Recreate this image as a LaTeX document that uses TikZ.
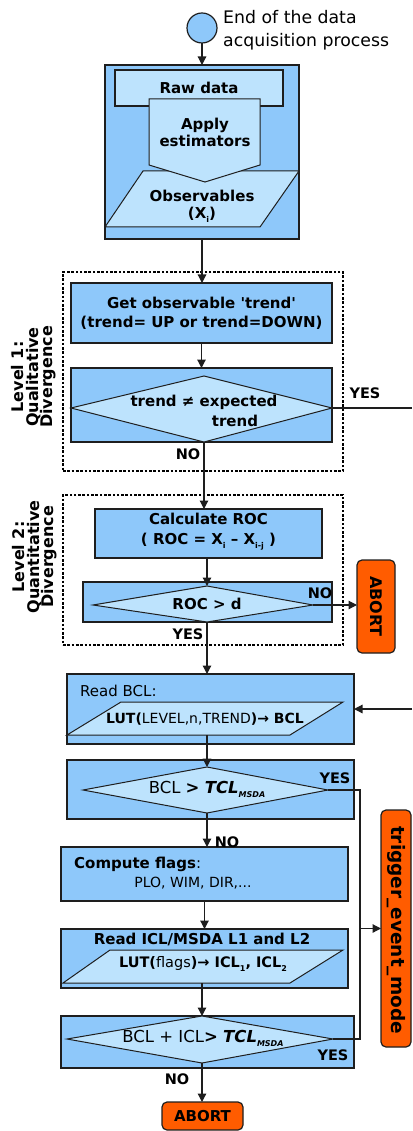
\documentclass[tikz,border=0pt]{standalone}
\usepackage{fontspec}
\setmainfont{DejaVu Sans}[Ligatures=TeXOff]
\usetikzlibrary{arrows.meta}
\definecolor{midblue}{HTML}{8EC8FA}
\definecolor{lightblue}{HTML}{BDE3FD}
\definecolor{abortorange}{HTML}{FF5C00}
\definecolor{edge}{HTML}{1E1E1E}
\newcommand\myfs[2]{\fontsize{#1}{#2}\selectfont}
\newcommand\sbs[1]{\raisebox{-0.45ex}{\fontsize{8}{8}\selectfont #1}}
\begin{document}
\begin{tikzpicture}[x=1pt,y=-1pt,
 box/.style={draw=edge, line width=1.2pt, fill=midblue, inner sep=0pt, outer sep=0pt, rectangle},
 innershape/.style={draw=edge, line width=1pt, fill=lightblue},
 txt/.style={inner sep=0pt, font=\bfseries\myfs{15}{18}, align=center},
 lbl/.style={inner sep=0pt, font=\bfseries\myfs{14.5}{16}},
 conn/.style={draw=edge, line width=1.2pt},
 arr/.style={conn, -{Triangle[length=8.5pt,width=8.5pt]}},
 dotbox/.style={draw=black, line width=2.6pt, dash pattern=on 2.6pt off 1.7pt, inner sep=0pt, outer sep=0pt},
 abortbox/.style={draw=edge, line width=1.2pt, fill=abortorange, rounded corners=5pt, inner sep=0pt, outer sep=0pt},
]
\useasboundingbox (0,0) rectangle (412,1131);

% start
\node[draw=edge, line width=1.2pt, fill=midblue, circle, minimum size=30pt, inner sep=0pt, outer sep=0pt] (start) at (202,28) {};
\node[anchor=west, inner sep=0pt, align=left, font=\myfs{17.3}{23}] (starttxt) at (223,30) {End of the data\\acquisition process};

% acquisition block
\node[box, minimum width=194pt, minimum height=174pt] (acq) at (202,152) {};
\node[box, fill=lightblue, minimum width=168pt, minimum height=36pt] (raw) at (199,88) {};
\node[txt] (rawtxt) at (199,88) {Raw data};
\draw[innershape] (143,171) -- (299,171) -- (260,227) -- (105,227) -- cycle;
\draw[innershape] (149,99) -- (260,99) -- (260,165) -- (205,182) -- (149,165) -- cycle;
\node[txt, font=\bfseries\myfs{15}{17}] (apply) at (205,132) {Apply\\estimators};
\node[txt, font=\bfseries\myfs{15}{17}] (obs) at (202,206) {Observables\\(X\sbs{i})};

\draw[arr] (start.south) -- (acq.north);

% level 1
\node[dotbox, minimum width=280pt, minimum height=199pt] (lvl1) at (203,371.5) {};
\node[txt, rotate=90, font=\bfseries\myfs{16}{14.5}] (lvl1txt) at (34,377) {Level 1:\\Qualitative\\Divergence};
\node[box, minimum width=261pt, minimum height=60pt] (getobs) at (201.5,313) {};
\node[txt, font=\bfseries\myfs{15}{19}] (getobstxt) at (201.5,313) {Get observable 'trend'\\(trend= UP or trend=DOWN)};
\draw[arr] (acq.south) -- (acq.south |- getobs.north);

\node[box, minimum width=261pt, minimum height=74pt] (dec1) at (201.5,405) {};
\draw[innershape] (71,408) coordinate (d1l) -- (204,376) coordinate (d1t) -- (332,408) coordinate (d1r) -- (204,442) coordinate (d1b) -- cycle;
\node[txt] (d1a) at (204,402) {trend ≠ expected};
\node[txt] (d1c) at (235,421) {trend};
\draw[arr] (getobs.south) -- (getobs.south |- dec1.north);
\node[lbl] (yes1) at (365,393) {YES};
\coordinate (yesout) at (412,408);
\draw[conn] (d1r) -- (yesout);
\node[lbl] (no1) at (188,454) {NO};

% level 2
\node[dotbox, minimum width=280pt, minimum height=150pt] (lvl2) at (203,570) {};
\node[txt, rotate=90, font=\bfseries\myfs{16}{14.5}] (lvl2txt) at (35,557) {Level 2:\\Quantitative\\Divergence};
\node[box, minimum width=227pt, minimum height=49pt] (calc) at (208.5,533.5) {};
\node[txt, font=\bfseries\myfs{15}{20}] (calctxt) at (208.5,532) {Calculate ROC\\( ROC = X\sbs{i} – X\sbs{i-j} )};
\draw[arr] (d1b) -- (d1b |- calc.north);

\node[box, minimum width=249pt, minimum height=40pt] (dec2) at (207.5,602) {};
\draw[innershape] (93,605) coordinate (d2l) -- (207,586) coordinate (d2t) -- (313,605) coordinate (d2r) -- (207,622) coordinate (d2b) -- cycle;
\node[txt] (d2txt) at (207,604) {ROC > d};
\draw[arr] (calc.south -| d2t) -- (d2t);

\node[abortbox, minimum width=38pt, minimum height=93pt] (abort1) at (376,606.5) {};
\node[txt, rotate=-90, font=\bfseries\myfs{16}{18}] (abort1txt) at (376,606.5) {ABORT};
\draw[arr] (d2r) -- (d2r -| abort1.west);
\node[lbl] (no2) at (320,593) {NO};
\node[lbl] (yes2) at (188,634) {YES};

% read BCL
\node[box, minimum width=287pt, minimum height=70pt] (readbcl) at (210.5,709) {};
\node[anchor=west, inner sep=0pt, font=\myfs{15}{18}] (readbcltxt) at (80,691) {Read BCL:};
\draw[innershape] (121,702) -- (343,702) -- (290,735) -- (67,735) -- cycle;
\node[inner sep=0pt, font=\myfs{14}{16}] (lut1) at (205,719) {{\bfseries LUT(}LEVEL,n,TREND{\bfseries )→ BCL}};
\draw[arr] (d2b) -- (d2b |- readbcl.north);
\coordinate (loopin) at (412,709);
\draw[arr] (loopin) -- (readbcl.east);

% decision 3
\node[box, minimum width=287pt, minimum height=59pt] (dec3) at (210.5,789.5) {};
\draw[innershape] (83,790) coordinate (d3l) -- (207,767) coordinate (d3t) -- (328,790) coordinate (d3r) -- (207,813) coordinate (d3b) -- cycle;
\node[inner sep=0pt, font=\myfs{16.5}{18}] (d3txt) at (207,789) {BCL {\bfseries >} {\bfseries\itshape TCL}\sbs{\bfseries\itshape MSDA}};
\draw[arr] (d3t |- readbcl.south) ++(0,-9) -- (d3t);
\node[lbl] (yes3) at (335,778) {YES};

% trigger
\node[abortbox, minimum width=30pt, minimum height=237pt] (trigger) at (396,928.5) {};
\node[txt, rotate=-90, font=\bfseries\myfs{18.5}{20}] (triggertxt) at (396,930) {trigger\_event\_mode};

% flags
\node[box, minimum width=287pt, minimum height=54pt] (flags) at (204.5,874) {};
\node[anchor=west, inner sep=0pt, font=\myfs{15}{18}] (flagstxt) at (74,864) {{\bfseries Compute flags}:};
\node[inner sep=0pt, font=\myfs{14}{18}] (flagslist) at (193,883) {PLO, WIM, DIR,...};
\draw[arr] (d3b) -- (d3b |- flags.north);
\node[lbl] (no3) at (227,842) {NO};

% read ICL
\node[box, minimum width=287pt, minimum height=59pt] (readicl) at (204.5,958.5) {};
\node[txt] (readicltxt) at (202,939) {Read ICL/MSDA L1 and L2};
\draw[innershape] (110,950) -- (343,950) -- (290,983) -- (63,983) -- cycle;
\node[inner sep=0pt, font=\myfs{14.5}{16}] (lut2) at (203,964) {{\bfseries LUT(}flags{\bfseries )→ ICL\sbs{1}, ICL\sbs{2}}};
\draw[arr] (flags.south) -- (flags.south |- readicl.north);

% decision 5
\node[box, minimum width=293pt, minimum height=52pt] (dec5) at (207.5,1042) {};
\draw[innershape] (67,1039) coordinate (d5l) -- (202,1016) coordinate (d5t) -- (333,1039) coordinate (d5r) -- (202,1063) coordinate (d5b) -- cycle;
\node[inner sep=0pt, font=\myfs{16.5}{18}] (d5txt) at (203,1038) {BCL + ICL{\bfseries >} {\bfseries\itshape TCL}\sbs{\bfseries\itshape MSDA}};
\draw[arr] (d5t |- readicl.south) ++(0,-5) -- (d5t);
\node[lbl] (yes5) at (333,1055) {YES};

% yes loop
\coordinate (bus) at (360,790);
\draw[conn] (d3r) -- (bus) -- (bus |- d5r) -- (d5r);
\draw[arr] (bus |- trigger.west) -- (trigger.west);

% abort 2
\node[abortbox, minimum width=81pt, minimum height=28pt] (abort2) at (202.5,1116) {};
\node[txt] (abort2txt) at (202.5,1116) {ABORT};
\draw[arr] (d5b) -- (d5b |- abort2.north);
\node[lbl] (no5) at (177,1079) {NO};
\end{tikzpicture}
\end{document}
